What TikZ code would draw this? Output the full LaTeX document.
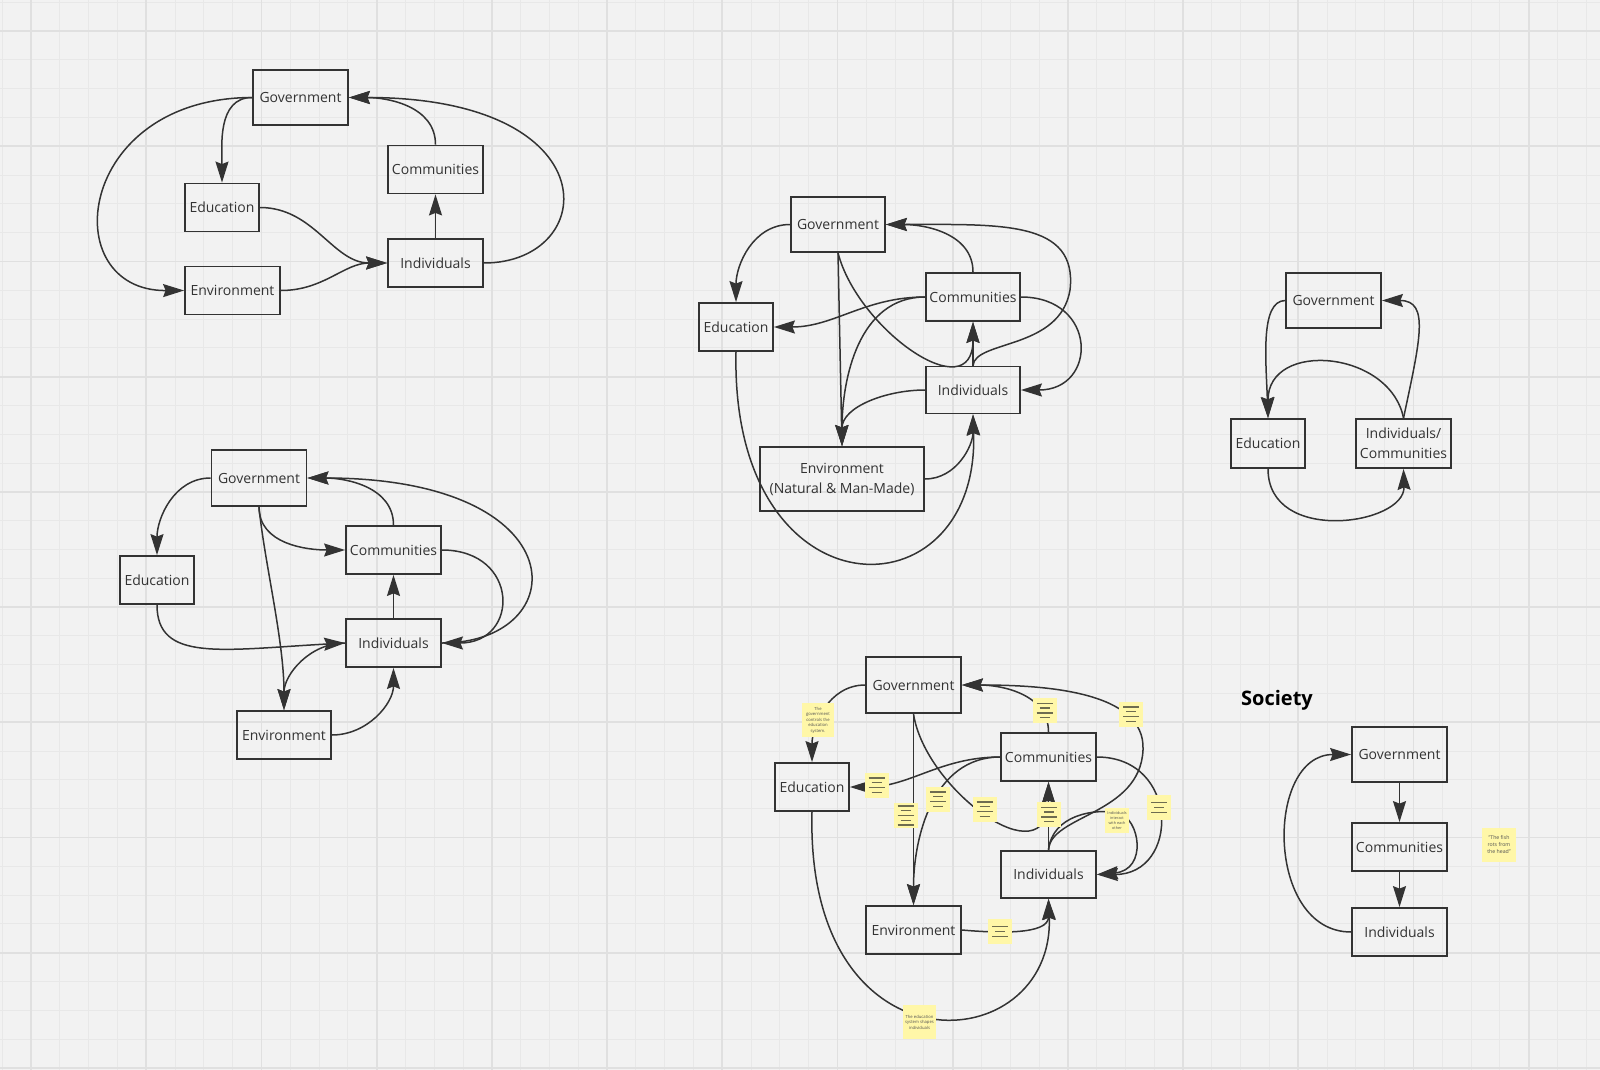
\documentclass[tikz,border=0pt]{standalone}
\usepackage{fontspec}
\setmainfont{Open Sans}
\usepackage{xcolor}
\usepackage{tikz}
\usetikzlibrary{arrows.meta, positioning}
\definecolor{boardgray}{RGB}{242,242,242}
\definecolor{gridminor}{RGB}{232,232,232}
\definecolor{gridmajor}{RGB}{224,224,224}
\definecolor{inkgray}{RGB}{51,51,51}
\definecolor{stickyyellow}{RGB}{255,247,168}
\definecolor{stickyline}{RGB}{110,108,80}
\tikzstyle{box} = [rectangle, draw=inkgray, line width=1.8pt, inner sep=0pt, minimum width=95pt, minimum height=48pt, align=center, text=inkgray, font=\fontsize{14}{20}\selectfont]
\tikzstyle{note} = [rectangle, fill=stickyyellow, inner sep=0pt, minimum width=33pt, minimum height=34pt, align=center, text=inkgray!85, font=\fontsize{4.2}{5.5}\selectfont]
\tikzstyle{linenote} = [rectangle, fill=stickyyellow, inner sep=0pt, minimum width=24pt, minimum height=25pt]
\tikzstyle{arrow} = [draw=inkgray, line width=1.5pt, -{Stealth[length=21pt, width=13pt, inset=2.5pt]}]
\tikzstyle{thingrid} = [draw=gridminor, line width=1pt]
\tikzstyle{thickgrid} = [draw=gridmajor, line width=1.8pt]

\begin{document}
\begin{tikzpicture}[x=1pt, y=-1pt]

% ===== BOARD =====
\useasboundingbox (0,0) rectangle (1600,1070);
\fill[boardgray] (0,0) rectangle (1600,1070);
\foreach \k in {0,...,55} \draw[thingrid] ({2.2+28.8*\k},0) -- ++(0,1070);
\foreach \k in {0,...,37} \draw[thingrid] (0,{2.2+28.8*\k}) -- ++(1600,0);
\foreach \m in {0,...,13} \draw[thickgrid] ({31+115.2*\m},0) -- ++(0,1070);
\foreach \m in {0,...,9} \draw[thickgrid] (0,{31+115.2*\m}) -- ++(1600,0);

% ===== MAP A (TOP LEFT) =====
\node (gova) [box, minimum height=55pt] at (300.5,97.5) {Government};
\node (coma) [box] at (435.5,169.5) {Communities};
\node (edua) [box, minimum width=74pt] at (222,207.5) {Education};
\node (inda) [box] at (435.5,263) {Individuals};
\node (enva) [box] at (232.5,290.5) {Environment};

\draw [arrow] (gova.west) to[out=180, in=90] (edua.north);
\draw [arrow] (gova.west) .. controls (75,98) and (55,291) .. (enva.west);
\draw [arrow] (edua.east) to[out=0, in=180] (inda.west);
\draw [arrow] (enva.east) to[out=0, in=180] (inda.west);
\draw [arrow] (inda.north) -- (coma.south);
\draw [arrow] (coma.north) to[out=90, in=0] (gova.east);
\draw [arrow] (inda.east) .. controls (600,263) and (612,97.5) .. (gova.east);

% ===== MAP B (BOTTOM LEFT) =====
\node (govb) [box, minimum height=56pt] at (259,478) {Government};
\node (edub) [box, minimum width=74pt] at (157,580) {Education};
\node (comb) [box] at (393.5,550) {Communities};
\node (indb) [box] at (393.5,643) {Individuals};
\node (envb) [box, minimum width=94pt] at (284,735) {Environment};

\draw [arrow] (govb.west) to[out=180, in=90] (edub.north);
\draw [arrow] (govb.south) to[out=-90, in=180] (comb.west);
\draw [arrow] (govb.south) .. controls (264,560) and (284,640) .. (envb.north);
\draw [arrow] (edub.south) .. controls (157,662) and (220,650) .. (indb.west);
\draw [arrow] (indb.west) to[out=180, in=90] (envb.north);
\draw [arrow] (envb.east) to[out=0, in=-90] (indb.south);
\draw [arrow] (indb.north) -- (comb.south);
\draw [arrow] (comb.north) to[out=90, in=0] (govb.east);
\draw [arrow] (comb.east) .. controls (520,550) and (520,643) .. (indb.east);
\draw [arrow] (indb.east) .. controls (575,643) and (580,478) .. (govb.east);

% ===== MAP C (TOP MIDDLE) =====
\node (govc) [box, minimum width=94pt, minimum height=55pt] at (838,224.5) {Government};
\node (educ) [box, minimum width=74pt] at (736,327) {Education};
\node (comc) [box, minimum width=94pt] at (973,297) {Communities};
\node (indc) [box, minimum width=94pt, minimum height=47pt] at (973,390) {Individuals};
\node (envc) [box, minimum width=164pt, minimum height=64pt] at (842,479) {Environment\\(Natural \& Man-Made)};

\draw [arrow] (govc.west) to[out=180, in=90] (educ.north);
\draw [arrow] (govc.south) -- (envc.north);
\draw [arrow] (govc.south) .. controls (858,330) and (973,410) .. (comc.south);
\draw [arrow] (comc.west) to[out=180, in=0] (educ.east);
\draw [arrow] (comc.west) to[out=180, in=90] (envc.north);
\draw [arrow] (indc.west) to[out=180, in=90] (envc.north);
\draw [arrow] (comc.north) to[out=90, in=0] (govc.east);
\draw [arrow] (indc.north) .. controls (975,340) and (1060,350) .. (1070,290) .. controls (1078,220) and (1000,224.5) .. (govc.east);
\draw [arrow] (comc.east) .. controls (1098,297) and (1098,390) .. (indc.east);
\draw [arrow] (indc.north) -- (comc.south);
\draw [arrow] (envc.east) to[out=0, in=-90] (indc.south);
\draw [arrow] (educ.south) .. controls (730,620) and (980,620) .. (indc.south);

% ===== MAP D (TOP RIGHT) =====
\node (govd) [box, minimum height=55pt] at (1333.5,300.5) {Government};
\node (edud) [box, minimum width=74pt, minimum height=49pt] at (1268,443.5) {Education};
\node (indcomd) [box, minimum height=49pt] at (1403.5,443.5) {Individuals/\\Communities};

\draw [arrow] (govd.west) .. controls (1260,301) and (1266,360) .. (edud.north);
\draw [arrow] (indcomd.north) .. controls (1390,350) and (1268,340) .. (edud.north);
\draw [arrow] (indcomd.north) .. controls (1420,340) and (1430,300.5) .. (govd.east);
\draw [arrow] (edud.south) .. controls (1268,545) and (1405,525) .. (indcomd.south);

% ===== MAP E (BOTTOM MIDDLE, WITH NOTES) =====
\node (gove) [box, minimum height=56pt] at (913.5,685) {Government};
\node (edue) [box, minimum width=74pt] at (812,787) {Education};
\node (come) [box] at (1048.5,757) {Communities};
\node (inde) [box, minimum height=47pt] at (1048.5,874.5) {Individuals};
\node (enve) [box] at (913.5,930) {Environment};

\draw [arrow] (gove.west) to[out=180, in=90] (edue.north);
\draw [arrow] (gove.south) -- (enve.north);
\draw [arrow] (gove.south) .. controls (925,790) and (1048.5,880) .. (come.south);
\draw [arrow] (come.west) to[out=180, in=0] (edue.east);
\draw [arrow] (come.west) to[out=180, in=90] (enve.north);
\draw [arrow] (inde.north) -- (come.south);
\draw [arrow] (come.north) to[out=90, in=0] (gove.east);
\draw [arrow] (inde.north) .. controls (1050,815) and (1140,815) .. (1143,750) .. controls (1146,690) and (1040,685) .. (gove.east);
\draw [arrow] (come.east) .. controls (1180,757) and (1180,874.5) .. (inde.east);
\draw [arrow] (inde.north) .. controls (1052,815) and (1095,808) .. (1118,813) .. controls (1140,818) and (1148,870) .. (inde.east);
\draw [arrow] (enve.east) to[out=-5, in=-90] (inde.south);
\draw [arrow] (edue.south) .. controls (805,1080) and (1055,1060) .. (inde.south);

% sticky notes on the links
\foreach \nx/\ny/\nl [count=\c] in {876.5/785/4, 905.5/815.5/5, 938/799/4, 984.5/809/4, 1049/814.5/4, 1159/807.5/3, 1044.5/710.5/4, 1131/714/4, 1000/931.5/3}{
  \node (stick\c) [linenote] at (\nx,\ny) {};
  \foreach \i in {1,...,\nl}{
    \pgfmathsetmacro{\half}{mod(\i,2)==1 ? 8 : 5}
    \pgfmathsetmacro{\off}{(\i-(\nl+1)/2)*4.8}
    \draw[stickyline, line width=1.4pt] ([shift={(-\half,\off)}]stick\c.center) -- ([shift={(\half,\off)}]stick\c.center);
  }
}
\node (notegov) [note, minimum width=32pt] at (818,720) {The\\government\\controls the\\education\\system.};
\node (noteind) [note, minimum width=24pt, minimum height=25pt, font=\fontsize{3.8}{5.2}\selectfont] at (1117,820.5) {Individuals\\interact\\with each\\other};
\node (noteedu) [note] at (919.5,1022) {The education\\system shapes\\individuals};

% ===== MAP F (SOCIETY) =====
\node (society) [text=black, font=\fontsize{20}{24}\selectfont\bfseries] at (1277,700) {Society};
\node (govf) [box, minimum height=55pt] at (1399.5,754.5) {Government};
\node (comf) [box] at (1399.5,847) {Communities};
\node (indf) [box] at (1399.5,932) {Individuals};
\node (notef) [note, minimum width=34pt, font=\fontsize{5.2}{7}\selectfont] at (1499,845) {"The fish\\rots from\\the head"};

\draw [arrow] (govf.south) -- (comf.north);
\draw [arrow] (comf.south) -- (indf.north);
\draw [arrow] (indf.west) .. controls (1265,932) and (1265,754.5) .. (govf.west);

\end{tikzpicture}
\end{document}
